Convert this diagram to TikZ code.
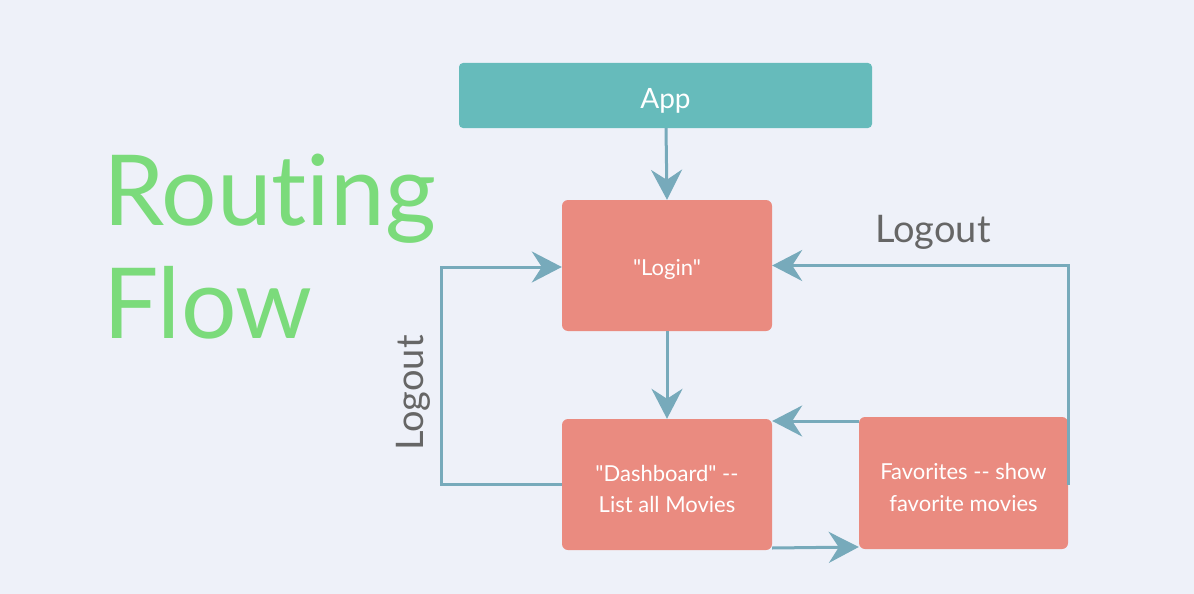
\documentclass[tikz,border=0pt]{standalone}
\usepackage{fontspec}
\setmainfont{Lato}[Ligatures={TeXOff,NoCommon}]
\usepackage{xcolor}
\usetikzlibrary{arrows.meta,positioning,calc}
\definecolor{bgcol}{HTML}{EEF1F9}
\definecolor{appcol}{HTML}{66BBBB}
\definecolor{pagecol}{HTML}{EA8B80}
\definecolor{linkcol}{HTML}{77AABB}
\definecolor{titlecol}{HTML}{7BDB7B}
\definecolor{labelcol}{HTML}{666666}
\newcommand{\boxstrut}{\rule{0pt}{25pt}}

\begin{document}
\begin{tikzpicture}[x=1pt, y=-1pt,
  pagebox/.style={fill=pagecol, rounded corners=6pt, minimum width=210pt, minimum height=131pt, text=white, align=center, font=\fontsize{22}{31.5}\selectfont},
  link/.style={draw=linkcol, line width=3pt, -{Stealth[length=30pt, width=31pt, inset=10pt]}},
  logout/.style={text=labelcol, font=\fontsize{38}{42}\selectfont},
  title/.style={anchor=base west, text=titlecol, font=\fontsize{98}{113}\selectfont, inner sep=0pt}]
% Background
\fill[bgcol] (0,0) rectangle (1194,594);
\useasboundingbox (0,0) rectangle (1194,594);

% Title
\node[title] (title1) at (103,225) {Routing};
\node[title] (title2) at (103,338) {Flow};

% Boxes
\node[fill=appcol, rounded corners=4pt, minimum width=413pt, minimum height=65pt, text=white, text height=25pt, text depth=0pt, font=\fontsize{28}{30}\selectfont] (App) at (665.5,95.5) {App};
\node[pagebox] (Login) at (667,265.5) {\boxstrut"Login"};
\node[pagebox] (Dash) at (667,484.5) {\boxstrut"Dashboard" --\\List all Movies};
\node[pagebox, minimum width=209pt, minimum height=132pt] (Fav) at (963.5,483) {\boxstrut Favorites -- show\\favorite movies};

% Links
\draw[link] (App.south -| 666,0) -- (Login.north -| 667,0);
\draw[link] (Login) -- (Dash);
\coordinate (favout) at (1068,485);
\draw[link] (favout) |- (Login.east);
\draw[link] (Dash.west) -| (441,267) -- (Login.west |- 0,267);
\draw[link] (Fav.north west |- 0,421) -- (Dash.north east |- 0,421);
\draw[link] (Dash.south east |- 0,548) -- (Fav.south west |- 0,547);

% Logout labels
\node[logout, anchor=base] (lo1) at (933,242) {Logout};
\node[logout, anchor=base, rotate=90] (lo2) at (423,393) {Logout};
\end{tikzpicture}
\end{document}
